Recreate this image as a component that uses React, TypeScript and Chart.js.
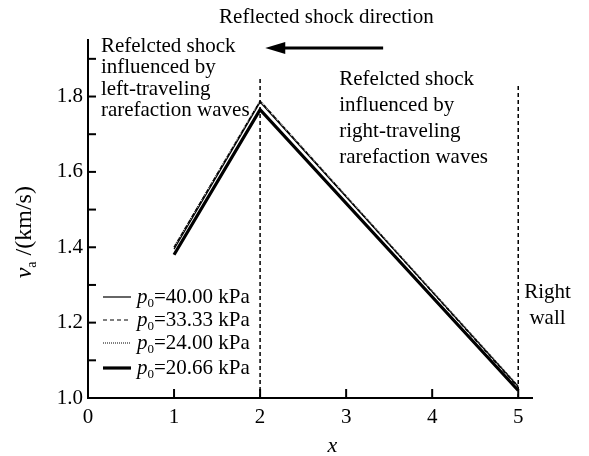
import React, { useEffect, useRef } from "react";
import { Chart, registerables } from "chart.js";

Chart.register(...registerables);

// ---- data ----
const xValues = [1, 2, 5];
const p40 = [1.395, 1.785, 1.03];
const p33 = [1.4, 1.788, 1.028];
const p24 = [1.402, 1.79, 1.033];
const p20 = [1.38, 1.765, 1.02];
const seriesLabels = ["=40.00 kPa", "=33.33 kPa", "=24.00 kPa", "=20.66 kPa"];
const xTicks = [0, 1, 2, 3, 4, 5];
const yTicks = [1.0, 1.1, 1.2, 1.3, 1.4, 1.5, 1.6, 1.7, 1.8, 1.9];
const yLabelTicks = [1.0, 1.2, 1.4, 1.6, 1.8];
const dividerX = [2, 5];
const dividerTop = [1.852, 1.831];
const leftNote = ["Refelcted shock", "influenced by", "left-traveling", "rarefaction waves"];
const rightNote = ["Refelcted shock", "influenced by", "right-traveling", "rarefaction waves"];
const wallNote = ["Right", "wall"];
const directionNote = "Reflected shock direction";

const SERIF = '"Liberation Serif", "Times New Roman", serif';
const FS = 21;

type Part = { t: string; it?: boolean; sub?: boolean };

function fontFor(p: Part, size: number) {
  return `${p.it ? "italic " : ""}${p.sub ? Math.round(size * 0.6) : size}px ${SERIF}`;
}

function drawRich(ctx: CanvasRenderingContext2D, parts: Part[], x: number, y: number, size: number, align: string) {
  const widths = parts.map((p) => {
    ctx.font = fontFor(p, size);
    return ctx.measureText(p.t).width;
  });
  const total = widths.reduce((a, b) => a + b, 0);
  let cx = align === "center" ? x - total / 2 : align === "right" ? x - total : x;
  ctx.textAlign = "left";
  ctx.textBaseline = "middle";
  parts.forEach((p, i) => {
    ctx.font = fontFor(p, size);
    ctx.fillText(p.t, cx, y + (p.sub ? size * 0.3 : 0));
    cx += widths[i];
  });
}

const styles = [
  { width: 1.2, dash: [] as number[] },
  { width: 1.2, dash: [4, 3] },
  { width: 1, dash: [1, 1] },
  { width: 3.2, dash: [] as number[] },
];

const annotationPlugin = {
  id: "annotations",
  afterDraw(chart: any) {
    const ctx: CanvasRenderingContext2D = chart.ctx;
    const xs = chart.scales.x;
    const ys = chart.scales.y;
    const area = chart.chartArea;
    ctx.save();
    ctx.fillStyle = "#000";
    ctx.strokeStyle = "#000";

    // inward ticks
    ctx.lineWidth = 2;
    xTicks.forEach((v) => {
      const px = xs.getPixelForValue(v);
      ctx.beginPath();
      ctx.moveTo(px, area.bottom);
      ctx.lineTo(px, area.bottom - 9);
      ctx.stroke();
    });
    yTicks.forEach((v) => {
      const py = ys.getPixelForValue(v);
      ctx.beginPath();
      ctx.moveTo(area.left, py);
      ctx.lineTo(area.left + 8, py);
      ctx.stroke();
    });

    // direction title + arrow
    ctx.font = `${FS}px ${SERIF}`;
    ctx.textAlign = "center";
    ctx.textBaseline = "middle";
    ctx.fillText(directionNote, xs.getPixelForValue(2.77), ys.getPixelForValue(2.011));
    const ay = ys.getPixelForValue(1.929);
    const ax1 = xs.getPixelForValue(3.43);
    const ax2 = xs.getPixelForValue(2.06);
    ctx.lineWidth = 3;
    ctx.beginPath();
    ctx.moveTo(ax1, ay);
    ctx.lineTo(ax2 + 18, ay);
    ctx.stroke();
    ctx.beginPath();
    ctx.moveTo(ax2, ay);
    ctx.lineTo(ax2 + 20, ay - 6);
    ctx.lineTo(ax2 + 20, ay + 6);
    ctx.closePath();
    ctx.fill();

    // notes
    ctx.textAlign = "left";
    const leftY = [1.932, 1.876, 1.82, 1.764];
    leftNote.forEach((t, i) => ctx.fillText(t, xs.getPixelForValue(0.15), ys.getPixelForValue(leftY[i])));
    const rightY = [1.844, 1.775, 1.706, 1.637];
    rightNote.forEach((t, i) => ctx.fillText(t, xs.getPixelForValue(2.92), ys.getPixelForValue(rightY[i])));
    ctx.textAlign = "center";
    const wallY = [1.281, 1.212];
    wallNote.forEach((t, i) => ctx.fillText(t, xs.getPixelForValue(5.34), ys.getPixelForValue(wallY[i])));

    // legend
    const rowsY = [297, 320, 343, 368];
    seriesLabels.forEach((lab, i) => {
      const st = styles[i];
      ctx.lineWidth = st.width;
      ctx.setLineDash(st.dash);
      ctx.beginPath();
      ctx.moveTo(area.left + 15, rowsY[i]);
      ctx.lineTo(area.left + 43, rowsY[i]);
      ctx.stroke();
      ctx.setLineDash([]);
      drawRich(ctx, [{ t: "p", it: true }, { t: "0", sub: true }, { t: lab }], area.left + 49, rowsY[i], FS, "left");
    });

    // axis titles
    drawRich(ctx, [{ t: "x", it: true }], xs.getPixelForValue(2.84), area.bottom + 48, FS + 1, "center");
    ctx.save();
    ctx.translate(25, ys.getPixelForValue(1.44));
    ctx.rotate(-Math.PI / 2);
    drawRich(ctx, [{ t: "v", it: true }, { t: "a", sub: true }, { t: " /(km/s)" }], 0, 0, FS + 3, "center");
    ctx.restore();

    ctx.restore();
  },
};

export default function App() {
  const ref = useRef<HTMLCanvasElement | null>(null);
  useEffect(() => {
    if (!ref.current) return;
    const series = [p40, p33, p24, p20];
    const datasets: any[] = series.map((s, i) => ({
      data: xValues.map((x, j) => ({ x, y: s[j] })),
      borderColor: "#000",
      borderWidth: styles[i].width,
      borderDash: styles[i].dash,
      pointRadius: 0,
      fill: false,
      tension: 0,
    }));
    dividerX.forEach((x, i) => {
      datasets.push({
        data: [
          { x, y: 1.0 },
          { x, y: dividerTop[i] },
        ],
        borderColor: "#000",
        borderWidth: 1.5,
        borderDash: [4, 3],
        pointRadius: 0,
        fill: false,
      });
    });
    const chart = new Chart(ref.current, {
      type: "line",
      data: { datasets },
      options: {
        animation: false,
        responsive: false,
        devicePixelRatio: 1,
        layout: { padding: { left: 0, top: 40, right: 57, bottom: 0 } },
        plugins: { legend: { display: false }, tooltip: { enabled: false } },
        scales: {
          x: {
            type: "linear",
            min: 0,
            max: 5.16,
            grid: { display: false, drawTicks: false, tickLength: 0 },
            border: { display: true, color: "#000", width: 2 },
            afterBuildTicks: (s: any) => {
              s.ticks = xTicks.map((v) => ({ value: v }));
            },
            afterFit: (s: any) => {
              s.height = 58;
            },
            ticks: {
              padding: 7,
              color: "#000",
              maxRotation: 0,
              autoSkip: false,
              font: { family: SERIF, size: FS },
              callback: (v: any) => String(v),
            },
          },
          y: {
            type: "linear",
            min: 1.0,
            max: 1.95,
            grid: { display: false, drawTicks: false, tickLength: 0 },
            border: { display: true, color: "#000", width: 2 },
            afterBuildTicks: (s: any) => {
              s.ticks = yTicks.map((v) => ({ value: v }));
            },
            afterFit: (s: any) => {
              s.width = 88;
            },
            ticks: {
              padding: 5,
              color: "#000",
              autoSkip: false,
              font: { family: SERIF, size: FS },
              callback: (v: any) =>
                yLabelTicks.some((t) => Math.abs(t - Number(v)) < 1e-6) ? Number(v).toFixed(1) : "",
            },
          },
        },
      },
      plugins: [annotationPlugin],
    });
    return () => chart.destroy();
  }, []);
  return (
    <div style={{ position: "absolute", left: 0, top: 0, width: 589, height: 456, background: "#fff" }}>
      <canvas ref={ref} width={589} height={456} />
    </div>
  );
}
